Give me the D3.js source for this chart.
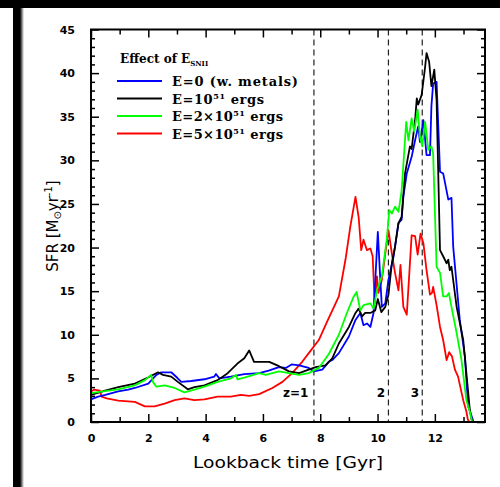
<!DOCTYPE html>
<html><head><meta charset="utf-8">
<script src="https://cdn.jsdelivr.net/npm/d3@7"></script>
<style>body{margin:0;background:#fff}svg{display:block}</style>
</head><body>
<script>
// ---- data ----
const seriesNames = ["E=0 (w. metals)", "E=10^51 ergs", "E=2×10^51 ergs", "E=5×10^51 ergs"];
const seriesColors = ["#0000ff", "#000000", "#00ff00", "#ff0000"];
const sfrE0 = [[0,2.6],[0.25,2.9],[0.5,3.1],[0.95,3.5],[1.3,3.7],[1.53,3.9],[2.0,4.4],[2.28,5.4],[2.45,5.7],[2.8,5.7],[3.0,5.1],[3.15,4.6],[3.5,4.7],[3.96,4.9],[4.3,5.2],[4.36,5.5],[4.48,5.0],[4.88,5.2],[5.35,5.5],[5.87,5.6],[6.2,5.9],[6.56,6.3],[6.8,6.2],[7.0,6.6],[7.26,6.5],[7.6,6.2],[7.78,5.8],[8.07,6.0],[8.3,6.9],[8.42,7.1],[8.65,7.9],[9.0,9.8],[9.23,11.7],[9.4,12.5],[9.51,11.1],[9.63,11.3],[9.75,10.9],[9.86,12.5],[10.01,21.8],[10.09,16.7],[10.15,13.2],[10.27,13.6],[10.38,16.3],[10.56,19.0],[10.73,22.8],[10.84,23.2],[10.9,25.8],[11.02,28.5],[11.19,30.4],[11.31,32.3],[11.42,33.9],[11.48,32.1],[11.6,34.6],[11.71,30.6],[11.83,30.6],[11.88,36.2],[11.94,38.8],[12.06,39.0],[12.18,28.7],[12.29,28.5],[12.47,25.5],[12.58,25.7],[12.64,20.1],[12.87,11.7],[13.05,7.5],[13.16,1.8],[13.27,0.8],[13.35,0]];
const sfrE1 = [[0,3.1],[0.49,3.6],[0.95,4.0],[1.53,4.4],[1.99,5.1],[2.34,5.7],[2.51,5.4],[2.8,5.2],[3.03,4.6],[3.38,3.75],[3.61,4.0],[3.96,4.2],[4.42,4.8],[4.77,5.6],[5.11,6.7],[5.35,7.3],[5.52,8.2],[5.69,6.9],[6.22,6.9],[6.56,6.4],[6.91,5.8],[7.26,5.6],[7.6,6.0],[7.84,6.3],[8.18,6.5],[8.42,7.3],[8.65,9.0],[9.0,10.9],[9.23,12.5],[9.34,13.0],[9.46,12.1],[9.57,12.5],[9.75,12.5],[9.92,12.8],[10.01,14.1],[10.13,12.6],[10.27,13.2],[10.38,14.6],[10.5,18.2],[10.61,20.1],[10.73,22.8],[10.84,23.5],[10.96,28.5],[11.13,31.6],[11.19,31.3],[11.31,34.6],[11.37,37.1],[11.42,36.4],[11.54,37.5],[11.66,40.7],[11.71,42.3],[11.8,41.3],[11.88,38.5],[11.98,40.4],[12.06,36.9],[12.18,19.7],[12.29,19.0],[12.41,18.2],[12.47,18.6],[12.52,17.4],[12.58,17.8],[12.76,13.2],[12.99,9.4],[13.1,5.6],[13.22,1.4],[13.3,0]];
const sfrE2 = [[0,3.3],[0.49,3.55],[0.95,3.75],[1.53,4.2],[1.88,4.8],[2.1,5.4],[2.16,4.6],[2.28,4.05],[2.57,4.2],[2.92,3.9],[3.26,3.4],[3.61,3.7],[3.96,4.05],[4.42,4.6],[4.88,5.0],[5.06,5.4],[5.11,4.9],[5.35,5.1],[5.87,5.6],[6.1,5.4],[6.56,5.8],[6.9,5.6],[7.26,5.4],[7.6,5.6],[7.95,6.2],[8.3,7.8],[8.65,10.0],[8.93,12.5],[9.17,14.4],[9.27,14.9],[9.4,12.8],[9.51,13.4],[9.75,13.6],[9.86,13.0],[9.98,15.1],[10.15,16.7],[10.32,20.9],[10.41,24.3],[10.5,23.9],[10.61,24.7],[10.73,24.1],[10.84,26.5],[10.9,29.5],[11.0,34.4],[11.08,32.3],[11.19,34.8],[11.28,33.3],[11.4,35.8],[11.48,32.7],[11.56,31.6],[11.66,34.4],[11.77,31.2],[11.88,31.6],[11.94,30.8],[12.06,17.8],[12.18,17.1],[12.29,14.4],[12.41,14.4],[12.49,14.8],[12.58,13.2],[12.76,10.2],[12.93,7.1],[13.1,2.5],[13.22,1.2],[13.3,0]];
const sfrE5 = [[0,3.5],[0.1,3.7],[0.31,3.6],[0.37,2.9],[0.55,2.7],[0.95,2.45],[1.53,2.3],[1.88,1.8],[2.22,1.8],[2.57,2.1],[2.92,2.5],[3.26,2.7],[3.61,2.5],[3.96,2.6],[4.42,2.9],[4.88,2.9],[5.23,3.1],[5.52,3.0],[5.87,3.2],[6.33,3.9],[6.68,4.6],[7.02,5.6],[7.37,6.9],[7.6,7.9],[7.95,9.4],[8.24,11.5],[8.65,14.4],[8.88,18.6],[9.05,22.4],[9.23,25.8],[9.34,23.5],[9.43,19.7],[9.51,20.9],[9.63,19.7],[9.75,19.9],[9.83,19.0],[9.9,13.6],[9.98,16.7],[10.03,14.8],[10.15,16.3],[10.27,19.3],[10.38,22.0],[10.5,19.3],[10.61,17.1],[10.73,15.1],[10.8,18.0],[10.9,13.2],[11.02,12.3],[11.19,21.4],[11.31,21.3],[11.4,19.2],[11.5,21.6],[11.6,20.5],[11.71,17.4],[11.83,14.6],[11.9,14.8],[11.94,15.5],[12.06,13.4],[12.18,10.9],[12.29,9.4],[12.41,7.1],[12.5,8.0],[12.6,7.5],[12.7,6.0],[12.81,5.2],[12.99,2.5],[13.1,1.2],[13.15,0.3],[13.2,0]];
const redshiftLines = [7.78, 10.38, 11.56];
const redshiftLabels = ["z=1", "2", "3"];
const xTicks = [0, 2, 4, 6, 8, 10, 12];
const yTicks = [0, 5, 10, 15, 20, 25, 30, 35, 40, 45];

// ---- layout ----
const W = 500, H = 487;
const svg = d3.select("body").append("svg").attr("width", W).attr("height", H);
const x = d3.scaleLinear().domain([0, 13.75]).range([91, 485]);
const y = d3.scaleLinear().domain([0, 45]).range([422, 29.5]);

// page frame decorations
const defs = svg.append("defs");
const grad = defs.append("linearGradient").attr("id", "fade").attr("x1", 0).attr("x2", 1);
grad.append("stop").attr("offset", 0).attr("stop-color", "#000");
grad.append("stop").attr("offset", 1).attr("stop-color", "#fff");
svg.append("rect").attr("x", 0).attr("y", 0).attr("width", W).attr("height", 8).attr("fill", "#000");
svg.append("rect").attr("x", 13).attr("y", 0).attr("width", 7).attr("height", H).attr("fill", "#000");
svg.append("rect").attr("x", 20).attr("y", 8).attr("width", 4).attr("height", H).attr("fill", "url(#fade)");

const lineGen = d3.line().x(d => x(d[0])).y(d => y(d[1]));
const plot = svg.append("g");
plot.append("defs").append("clipPath").attr("id", "clip")
  .append("rect").attr("x", 91).attr("y", 29.5).attr("width", 394).attr("height", 392.5);

// dashed redshift lines
plot.selectAll("line.z").data(redshiftLines).enter().append("line")
  .attr("x1", d => x(d)).attr("x2", d => x(d)).attr("y1", y(45)).attr("y2", y(0))
  .attr("stroke", "#222").attr("stroke-width", 1.2).attr("stroke-dasharray", "6,4");

const allSeries = [sfrE0, sfrE1, sfrE2, sfrE5];
const drawOrder = [3, 0, 1, 2];
drawOrder.forEach(i => {
  plot.append("path").datum(allSeries[i]).attr("d", lineGen)
    .attr("fill", "none").attr("stroke", seriesColors[i]).attr("stroke-width", 1.8)
    .attr("stroke-linejoin", "round").attr("clip-path", "url(#clip)");
});

// axes
const tickFont = "'DejaVu Sans', sans-serif";
function styleAxis(g) {
  g.select(".domain").remove();
  g.selectAll(".tick line").attr("stroke", "#000").attr("stroke-width", 1.5);
  g.selectAll("text").attr("font-family", tickFont).attr("font-weight", "bold").attr("font-size", 11).attr("fill", "#000");
}
const xMinor = d3.range(0, 14, 1);
const yMinor = d3.range(0, 46, 1);
svg.append("g").attr("transform", `translate(0,${y(0)})`)
  .call(d3.axisBottom(x).tickValues(xTicks).tickSize(-8).tickPadding(12).tickFormat(d3.format("d"))).call(styleAxis);
svg.append("g").attr("transform", `translate(0,${y(0)})`)
  .call(d3.axisBottom(x).tickValues(xMinor.filter(v => v % 2)).tickSize(-5).tickFormat("")).call(styleAxis);
svg.append("g").attr("transform", `translate(0,${y(45)})`)
  .call(d3.axisTop(x).tickValues(xTicks).tickSize(-8).tickFormat("")).call(styleAxis);
svg.append("g").attr("transform", `translate(0,${y(45)})`)
  .call(d3.axisTop(x).tickValues(xMinor.filter(v => v % 2)).tickSize(-5).tickFormat("")).call(styleAxis);
svg.append("g").attr("transform", `translate(${x(0)},0)`)
  .call(d3.axisLeft(y).tickValues(yTicks).tickSize(-8).tickPadding(16).tickFormat(d3.format("d"))).call(styleAxis);
svg.append("g").attr("transform", `translate(${x(0)},0)`)
  .call(d3.axisLeft(y).tickValues(yMinor.filter(v => v % 5)).tickSize(-4).tickFormat("")).call(styleAxis);
svg.append("g").attr("transform", `translate(${x(13.75)},0)`)
  .call(d3.axisRight(y).tickValues(yTicks).tickSize(-8).tickFormat("")).call(styleAxis);
svg.append("g").attr("transform", `translate(${x(13.75)},0)`)
  .call(d3.axisRight(y).tickValues(yMinor.filter(v => v % 5)).tickSize(-4).tickFormat("")).call(styleAxis);

// frame
svg.append("rect").attr("x", x(0)).attr("y", y(45)).attr("width", x(13.75) - x(0)).attr("height", y(0) - y(45))
  .attr("fill", "none").attr("stroke", "#000").attr("stroke-width", 2);

// redshift labels
const zPos = [[283, 397, "start"], [381, 397, "middle"], [415, 397, "middle"]];
svg.selectAll("text.zl").data(redshiftLabels).enter().append("text")
  .attr("x", (d, i) => zPos[i][0]).attr("y", (d, i) => zPos[i][1]).attr("text-anchor", (d, i) => zPos[i][2])
  .attr("font-family", tickFont).attr("font-weight", "bold").attr("font-size", 12).text(d => d);

// axis titles
svg.append("text").attr("x", 288).attr("y", 468).attr("text-anchor", "middle")
  .attr("font-family", "'DejaVu Sans', sans-serif").attr("font-size", 16)
  .attr("textLength", 190).attr("lengthAdjust", "spacingAndGlyphs").text("Lookback time [Gyr]");
const yt = svg.append("text").attr("transform", "translate(58,226) rotate(-90)").attr("text-anchor", "middle")
  .attr("font-family", "'DejaVu Sans', sans-serif").attr("font-size", 15);
yt.append("tspan").text("SFR [M");
yt.append("tspan").attr("dy", 3).attr("font-size", 10).text("⊙");
yt.append("tspan").attr("dy", -3).text("yr");
yt.append("tspan").attr("dy", -6).attr("font-size", 10).text("-1");
yt.append("tspan").attr("dy", 6).text("]");

// legend
const legFont = "'DejaVu Serif', serif";
const lt = svg.append("text").attr("x", 120).attr("y", 63).attr("font-family", legFont).attr("font-weight", "bold").attr("font-size", 12);
lt.append("tspan").text("Effect of E");
lt.append("tspan").attr("dy", 3).attr("font-size", 7).text("SNII");
const legY = [81, 98.5, 116, 133.5];
const legLen = [126, 92, 111, 111];
const leg = svg.append("g");
seriesNames.forEach((name, i) => {
  leg.append("line").attr("x1", 117).attr("x2", 162).attr("y1", legY[i]).attr("y2", legY[i])
    .attr("stroke", seriesColors[i]).attr("stroke-width", 1.8);
  const t = leg.append("text").attr("x", 172).attr("y", legY[i] + 5).attr("font-family", legFont)
    .attr("font-weight", "bold").attr("font-size", 13)
    .attr("textLength", legLen[i]).attr("lengthAdjust", "spacing");
  const parts = name.split("^");
  if (parts.length === 1) { t.text(name); }
  else {
    const rest = parts[1].split(" ");
    t.append("tspan").text(parts[0]);
    t.append("tspan").attr("dy", -5).attr("font-size", 8).text(rest[0]);
    t.append("tspan").attr("dy", 5).text(" " + rest.slice(1).join(" "));
  }
});
</script>
</body></html>
